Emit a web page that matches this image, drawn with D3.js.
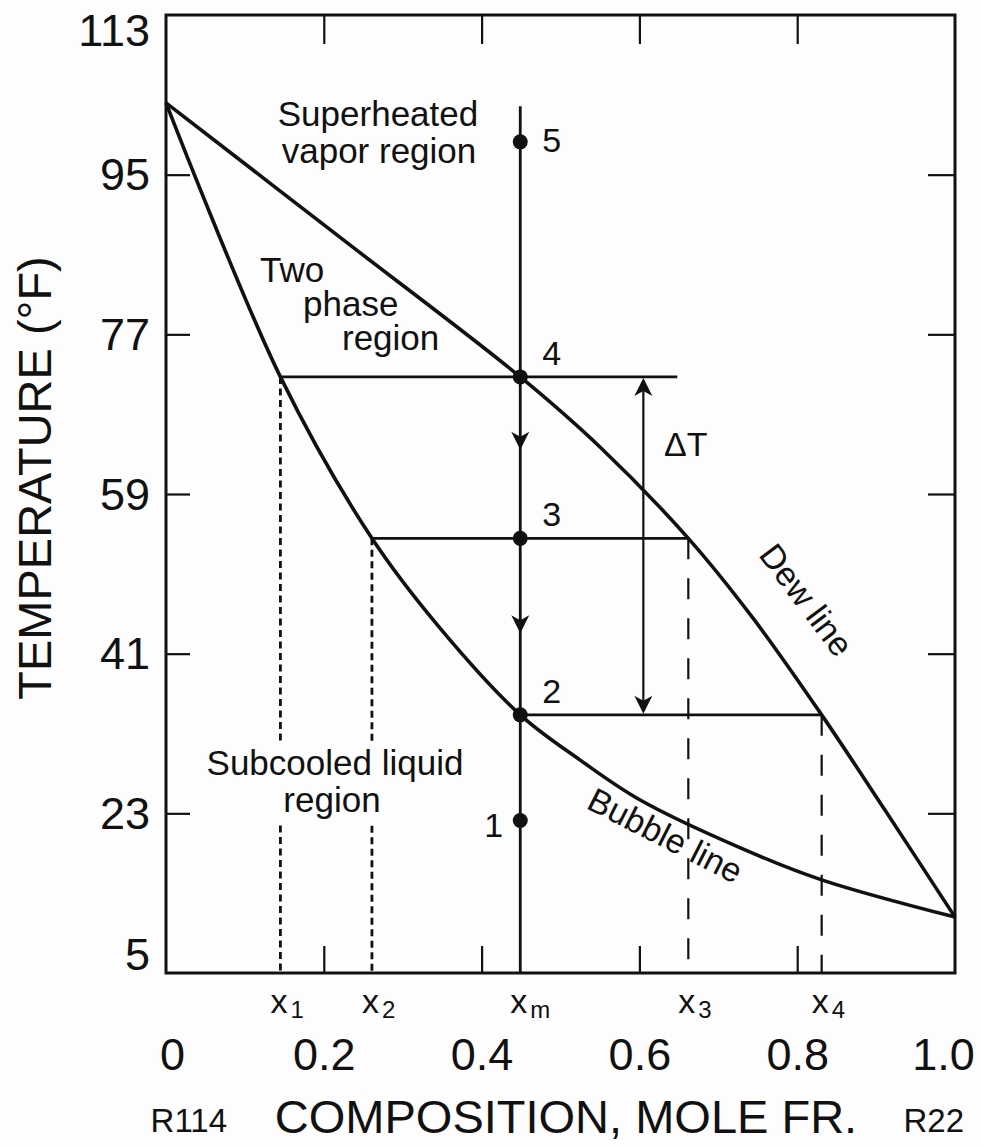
<!DOCTYPE html>
<html>
<head>
<meta charset="utf-8">
<script src="https://cdn.jsdelivr.net/npm/d3@7"></script>
<style>
  body { margin: 0; background: #fdfdfd; }
  svg { display: block; }
  text { font-family: "Liberation Sans", Arial, Helvetica, sans-serif; fill: #111; }
</style>
</head>
<body>
<svg id="chart"></svg>
<script>
var FONT = '"Liberation Sans", Arial, Helvetica, sans-serif';

// axis ticks
var tempTicks = [5, 23, 41, 59, 77, 95, 113];
var compTicks = [0, 0.2, 0.4, 0.6, 0.8, 1.0];
var compTickLabels = ["0", "0.2", "0.4", "0.6", "0.8", "1.0"];

// dew and bubble lines (mole fraction R22, temperature F)
var dewComp = [0, 0.224, 0.449, 0.550, 0.662, 0.744, 0.831, 0.911, 1.0];
var dewTemp = [103.1, 87.7, 72.2, 64.3, 54.0, 45.0, 34.1, 23.4, 11.3];
var bubbleComp = [0, 0.145, 0.261, 0.347, 0.449, 0.525, 0.601, 0.728, 0.831, 1.0];
var bubbleTemp = [103.1, 72.2, 54.0, 43.9, 34.1, 29.0, 24.5, 19.1, 15.5, 11.3];

// cooling path of the mixture
var mixComp = 0.449;
var pathTopTemp = 102.7;
var stateNames = ["1", "2", "3", "4", "5"];
var stateTemps = [22.2, 34.1, 54.0, 72.2, 98.7];
var coolArrowTemps = [64.0, 43.3];

// tie lines
var tieTemps = [72.2, 54.0, 34.1];
var tieFrom = [0.145, 0.261, 0.449];
var tieTo = [0.648, 0.662, 0.831];

// drop lines to the composition axis
var dropComps = [0.145, 0.261, 0.662, 0.831];
var dropTemps = [72.2, 54.0, 54.0, 34.1];
var dropShort = [true, true, false, false];

// composition markers under the axis
var markComps = [0.145, 0.261, 0.449, 0.662, 0.831];
var markSubs = ["1", "2", "m", "3", "4"];

// glide of temperature
var deltaComp = 0.605;
var deltaTemps = [72.2, 34.1];

var width = 983, height = 1147;

var svg = d3.select("#chart")
  .attr("width", width)
  .attr("height", height);

svg.append("rect")
  .attr("width", width)
  .attr("height", height)
  .attr("fill", "#fdfdfd");

var x = d3.scaleLinear().domain([0, 1]).range([166, 955]);
var y = d3.scaleLinear().domain([5, 113]).range([973, 15]);

function styleTicks(g) {
  g.select(".domain").remove();
  g.selectAll(".tick line").attr("stroke", "#111").attr("stroke-width", 2.2);
  g.selectAll(".tick text")
    .attr("fill", "#111")
    .attr("font-size", 45)
    .attr("font-family", FONT);
}

/**
  * axes: ticks point inward, frame drawn separately
**/
svg.append("g")
  .attr("transform", "translate(" + x(0) + ",0)")
  .call(d3.axisLeft(y).tickValues(tempTicks).tickSize(-24).tickPadding(16).tickFormat(d3.format("d")))
  .call(styleTicks)
  .call(function(g) {
    g.selectAll(".tick line")
      .filter(function(d) { return d === 5 || d === 113; }).remove();
    g.selectAll(".tick text")
      .attr("dy", function(d) {
        if (d === 113) return "0.67em";
        if (d === 5) return "-0.07em";
        return "0.34em";
      });
  });

svg.append("g")
  .attr("transform", "translate(" + x(1) + ",0)")
  .call(d3.axisRight(y).tickValues(tempTicks.slice(1, -1)).tickSize(-27).tickFormat(""))
  .call(styleTicks);

svg.append("g")
  .attr("transform", "translate(0," + y(113) + ")")
  .call(d3.axisTop(x).tickValues(compTicks.slice(1, -1)).tickSize(-29).tickFormat(""))
  .call(styleTicks);

svg.append("g")
  .attr("transform", "translate(0," + y(5) + ")")
  .call(d3.axisBottom(x).tickValues(compTicks).tickSize(-27)
    .tickFormat(function(d, i) { return compTickLabels[i]; }))
  .call(styleTicks)
  .call(function(g) {
    g.selectAll(".tick line")
      .filter(function(d) { return d === 0 || d === 1; }).remove();
    g.selectAll(".tick text")
      .attr("y", 97)
      .attr("dy", 0)
      .attr("dx", function(d) {
        if (d === 0) return 6;
        if (d === 1) return -12;
        return 0;
      });
  });

// frame
svg.append("rect")
  .attr("x", x(0))
  .attr("y", y(113))
  .attr("width", x(1) - x(0))
  .attr("height", y(5) - y(113))
  .attr("fill", "none")
  .attr("stroke", "#111")
  .attr("stroke-width", 3);

/**
  * drop lines, tie lines, cooling path
**/
dropComps.forEach(function(c, i) {
  svg.append("line")
    .attr("x1", x(c)).attr("x2", x(c))
    .attr("y1", y(dropTemps[i])).attr("y2", y(5))
    .attr("stroke", "#111")
    .attr("stroke-width", dropShort[i] ? 2.8 : 2.2)
    .attr("stroke-dasharray", dropShort[i] ? "7,4.5" : "21,19");
});

tieTemps.forEach(function(t, i) {
  svg.append("line")
    .attr("x1", x(tieFrom[i])).attr("x2", x(tieTo[i]))
    .attr("y1", y(t)).attr("y2", y(t))
    .attr("stroke", "#111")
    .attr("stroke-width", 2.6);
});

svg.append("line")
  .attr("x1", x(mixComp)).attr("x2", x(mixComp))
  .attr("y1", y(pathTopTemp)).attr("y2", y(5))
  .attr("stroke", "#111")
  .attr("stroke-width", 2.8);

svg.append("line")
  .attr("x1", x(deltaComp)).attr("x2", x(deltaComp))
  .attr("y1", y(deltaTemps[0]) + 4).attr("y2", y(deltaTemps[1]) - 4)
  .attr("stroke", "#111")
  .attr("stroke-width", 2.2);

function arrowHead(px, py, dir) {
  // dir = 1 points down, -1 points up
  var l = 18 * dir, w = 9, n = 13 * dir;
  return "M" + px + "," + py +
    "L" + (px - w) + "," + (py - l) +
    "L" + px + "," + (py - n) +
    "L" + (px + w) + "," + (py - l) + "Z";
}

coolArrowTemps.forEach(function(t) {
  svg.append("path")
    .attr("d", arrowHead(x(mixComp), y(t), 1))
    .attr("fill", "#111");
});

svg.append("path")
  .attr("d", arrowHead(x(deltaComp), y(deltaTemps[0]) + 1, -1))
  .attr("fill", "#111");
svg.append("path")
  .attr("d", arrowHead(x(deltaComp), y(deltaTemps[1]) - 1, 1))
  .attr("fill", "#111");

/**
  * saturation lines
**/
var line = d3.line()
  .x(function(d) { return x(d[0]); })
  .y(function(d) { return y(d[1]); })
  .curve(d3.curveCatmullRom.alpha(0.5));

svg.append("path")
  .datum(d3.zip(dewComp, dewTemp))
  .attr("d", line)
  .attr("fill", "none")
  .attr("stroke", "#111")
  .attr("stroke-width", 3.6);

svg.append("path")
  .datum(d3.zip(bubbleComp, bubbleTemp))
  .attr("d", line)
  .attr("fill", "none")
  .attr("stroke", "#111")
  .attr("stroke-width", 3.6);

// state points
svg.selectAll(".state")
  .data(stateTemps)
  .enter().append("circle")
  .attr("class", "state")
  .attr("cx", x(mixComp))
  .attr("cy", function(d) { return y(d); })
  .attr("r", 7.5)
  .attr("fill", "#111");

svg.selectAll(".state-label")
  .data(stateTemps)
  .enter().append("text")
  .attr("class", "state-label")
  .attr("font-size", 34)
  .attr("x", function(d, i) { return i === 0 ? x(mixComp) - 17 : x(mixComp) + 22; })
  .attr("y", function(d, i) {
    if (i === 0) return y(d) + 17;
    if (i === 4) return y(d) + 10;
    return y(d) - 12;
  })
  .attr("text-anchor", function(d, i) { return i === 0 ? "end" : "start"; })
  .text(function(d, i) { return stateNames[i]; });

// composition markers
var marks = svg.selectAll(".mark")
  .data(markComps)
  .enter().append("text")
  .attr("class", "mark")
  .attr("x", function(d) { return x(d) - 10; })
  .attr("y", 1013)
  .attr("font-size", 34);
marks.append("tspan").text("x");
marks.append("tspan")
  .attr("font-size", 24)
  .attr("dx", 3)
  .attr("dy", 5)
  .text(function(d, i) { return markSubs[i]; });

// delta T
svg.append("text")
  .attr("x", 664)
  .attr("y", 456)
  .attr("font-size", 34)
  .text("\u0394T");

/**
  * region labels, optionally on a blank patch that hides lines behind them
**/
function block(lines, size, knockout) {
  var g = svg.append("g");
  lines.forEach(function(l) {
    g.append("text")
      .attr("x", l[1])
      .attr("y", l[2])
      .attr("font-size", size)
      .attr("text-anchor", l[3] || "middle")
      .text(l[0]);
  });
  if (knockout) {
    var b = g.node().getBBox();
    g.insert("rect", ":first-child")
      .attr("x", b.x - 4)
      .attr("y", b.y + 2)
      .attr("width", b.width + 8)
      .attr("height", b.height + 2)
      .attr("fill", "#fdfdfd");
  }
}

block([["Superheated", 378, 126], ["vapor region", 379, 163]], 35);
block([["Two", 260, 282, "start"], ["phase", 303, 316, "start"], ["region", 342, 350, "start"]], 35);
block([["Subcooled liquid", 335, 775], ["region", 332, 812]], 35, true);

svg.append("text")
  .attr("font-size", 34)
  .attr("text-anchor", "middle")
  .attr("transform", "translate(797,607) rotate(53)")
  .text("Dew line");

svg.append("text")
  .attr("font-size", 34)
  .attr("text-anchor", "middle")
  .attr("transform", "translate(660,846) rotate(27)")
  .text("Bubble line");

// axis titles
svg.append("text")
  .attr("font-size", 47)
  .attr("text-anchor", "middle")
  .attr("transform", "translate(51,478) rotate(-90)")
  .text("TEMPERATURE (\u00B0F)");

svg.append("text")
  .attr("x", 566)
  .attr("y", 1133)
  .attr("font-size", 47)
  .attr("text-anchor", "middle")
  .text("COMPOSITION, MOLE FR.");

svg.append("text")
  .attr("x", 227)
  .attr("y", 1132)
  .attr("font-size", 33)
  .attr("text-anchor", "end")
  .text("R114");

svg.append("text")
  .attr("x", 964)
  .attr("y", 1132)
  .attr("font-size", 33)
  .attr("text-anchor", "end")
  .text("R22");
</script>
</body>
</html>
